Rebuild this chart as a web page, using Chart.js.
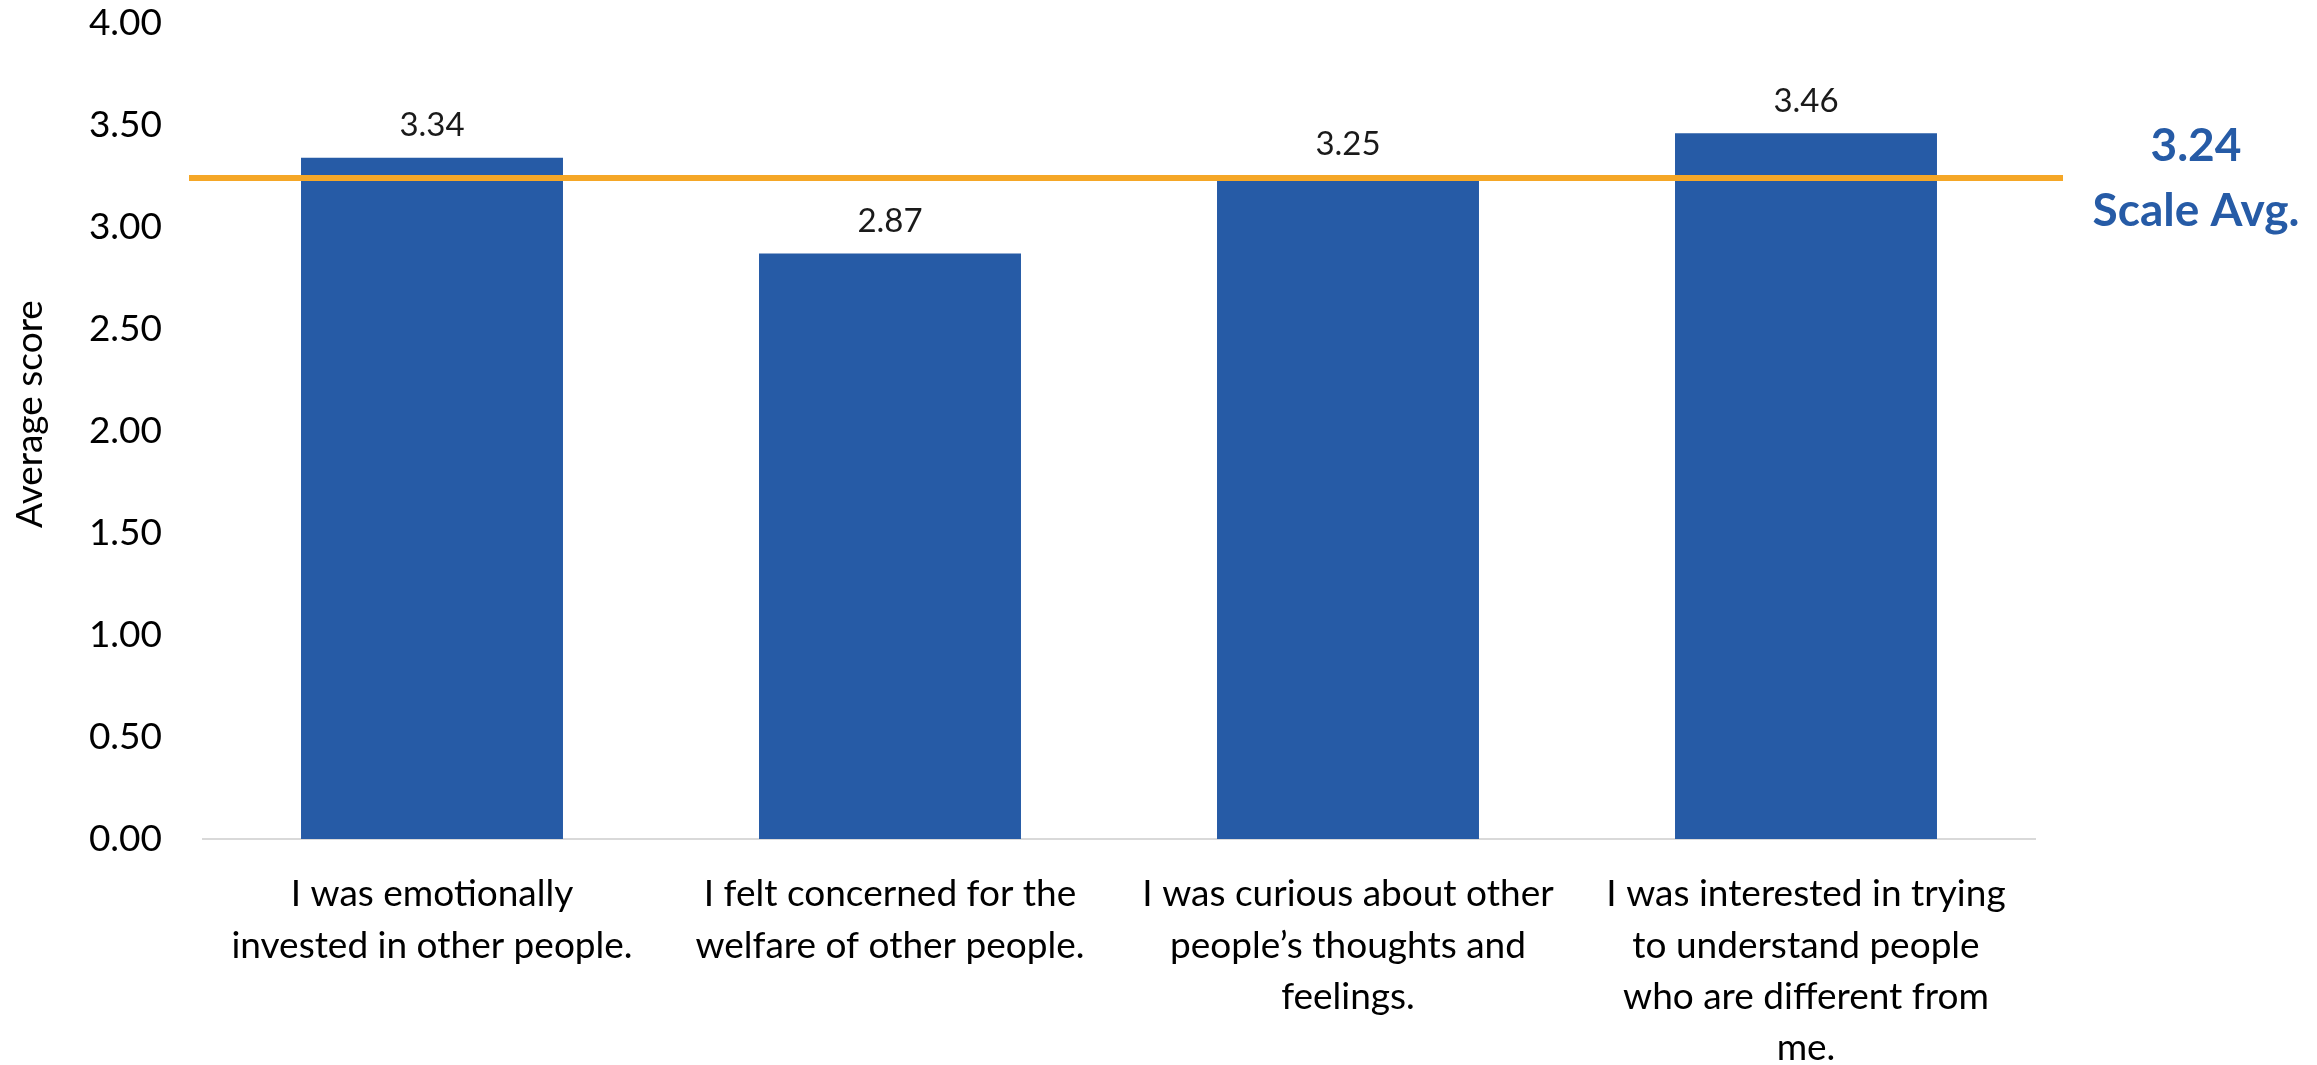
<!DOCTYPE html>
<html>
<head>
<meta charset="utf-8">
<title>Average score</title>
<script src="https://cdn.jsdelivr.net/npm/chart.js@4.4.1/dist/chart.umd.min.js"></script>
<style>
    body { margin: 0; background: #fff; }
    .chart-box { width: 2317px; height: 1065px; position: relative; }
</style>
</head>
<body>
<div class="chart-box">
    <canvas id="scoreChart"></canvas>
</div>
<script>
const categories = [
    ['I was emotionally', 'invested in other people.'],
    ['I felt concerned for the', 'welfare of other people.'],
    ['I was curious about other', 'people\u2019s thoughts and', 'feelings.'],
    ['I was interested in trying', 'to understand people', 'who are different from', 'me.']
];
const averageScores = [3.34, 2.87, 3.25, 3.46];
const yTickValues = [0, 0.5, 1, 1.5, 2, 2.5, 3, 3.5, 4];
const yAxisTitle = 'Average score';
const scaleAverage = 3.24;
const scaleAverageCaption = 'Scale Avg.';

const BLUE = '#265BA6';
const ORANGE = '#F5A727';
const FONT = 'Lato, "Open Sans", sans-serif';

document.addEventListener('DOMContentLoaded', () => {
    const ctx = document.getElementById('scoreChart').getContext('2d');

    // value printed above each bar
    const barValueLabels = {
        id: 'barValueLabels',
        afterDatasetsDraw(chart) {
            const c = chart.ctx;
            const meta = chart.getDatasetMeta(0);
            c.save();
            c.font = '33px ' + FONT;
            c.fillStyle = '#1a1a1a';
            c.textAlign = 'center';
            c.textBaseline = 'middle';
            meta.data.forEach((bar, i) => {
                c.fillText(averageScores[i].toFixed(2), bar.x, bar.y - 32);
            });
            c.restore();
        }
    };

    // scale average line with its caption on the right
    const averageLine = {
        id: 'averageLine',
        afterDatasetsDraw(chart) {
            const c = chart.ctx;
            const area = chart.chartArea;
            const y = chart.scales.y.getPixelForValue(scaleAverage);
            c.save();
            c.strokeStyle = ORANGE;
            c.lineWidth = 6;
            c.beginPath();
            c.moveTo(area.left - 14, y);
            c.lineTo(area.right + 28, y);
            c.stroke();

            c.font = 'bold 46px ' + FONT;
            c.fillStyle = BLUE;
            c.textAlign = 'center';
            c.textBaseline = 'middle';
            const cx = area.right + 161;
            c.fillText(scaleAverage.toFixed(2), cx, y - 32);
            c.fillText(scaleAverageCaption, cx, y + 33);
            c.restore();
        }
    };

    // rotated y title, sits a little above the middle of the plot
    const yTitle = {
        id: 'yTitle',
        afterDraw(chart) {
            const c = chart.ctx;
            const area = chart.chartArea;
            c.save();
            c.translate(30, (area.top + area.bottom) / 2 - 17);
            c.rotate(-Math.PI / 2);
            c.font = '37px ' + FONT;
            c.fillStyle = '#000';
            c.textAlign = 'center';
            c.textBaseline = 'middle';
            c.fillText(yAxisTitle, 0, 0);
            c.restore();
        }
    };

    new Chart(ctx, {
        type: 'bar',
        data: {
            labels: categories,
            datasets: [{
                label: yAxisTitle,
                data: averageScores,
                backgroundColor: BLUE,
                borderWidth: 0,
                categoryPercentage: 1,
                barPercentage: 0.572
            }]
        },
        options: {
            responsive: true,
            maintainAspectRatio: false,
            animation: false,
            layout: {
                padding: { left: 0, right: 282, top: 23, bottom: 0 }
            },
            plugins: {
                legend: { display: false },
                tooltip: { enabled: false }
            },
            scales: {
                x: {
                    grid: { display: false, drawTicks: false },
                    border: { display: true, color: '#D9D9D9', width: 2 },
                    ticks: {
                        color: '#000',
                        font: { family: FONT, size: 37, lineHeight: 1.38 },
                        padding: 30,
                        maxRotation: 0,
                        autoSkip: false
                    },
                    afterFit(scale) {
                        scale.height = 226;
                    }
                },
                y: {
                    min: 0,
                    max: 4,
                    // tick marks stay hidden, their length only spaces the labels off the plot
                    grid: { display: false, drawTicks: true, tickLength: 41 },
                    border: { display: false },
                    afterBuildTicks(scale) {
                        scale.ticks = yTickValues.map(v => ({ value: v }));
                    },
                    ticks: {
                        color: '#000',
                        font: { family: FONT, size: 37 },
                        padding: 0,
                        callback: (value) => Number(value).toFixed(2)
                    },
                    afterFit(scale) {
                        scale.width = 203;
                    }
                }
            }
        },
        plugins: [barValueLabels, averageLine, yTitle]
    });
});
</script>
</body>
</html>
